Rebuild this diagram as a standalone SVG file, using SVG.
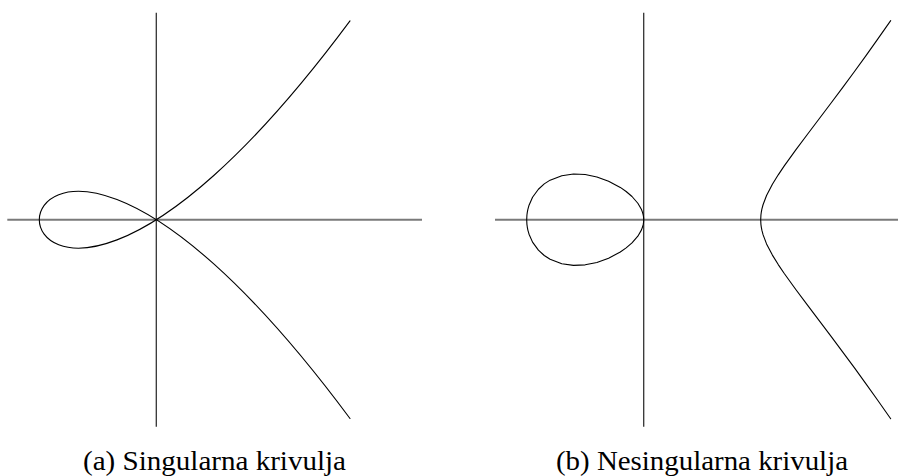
<svg xmlns="http://www.w3.org/2000/svg" width="898" height="476" viewBox="0 0 898 476">
<style>
.haxis{stroke:#7a7a7a;stroke-width:2;fill:none}
.vaxis{stroke:#333;stroke-width:1.3;fill:none}
.curve{stroke:#000;stroke-width:1.1;fill:none;stroke-linejoin:round;stroke-linecap:round}
.cap{font-family:"Liberation Serif","DejaVu Serif",serif;font-size:27px;fill:#000}
</style>
<rect width="898" height="476" fill="#fff"/>
<g id="plot-a">
<line class="haxis" x1="7.3" y1="219.7" x2="422" y2="219.7"/>
<line class="vaxis" x1="156.3" y1="12.7" x2="156.3" y2="426.7"/>
<path class="curve" d="M350,418.54 C-64.27,-139.27 -64.27,578.67 350,20.86"/>
<text class="cap" x="83" y="470" textLength="263" lengthAdjust="spacingAndGlyphs">(a) Singularna krivulja</text>
</g>
<g id="plot-b">
<line class="haxis" x1="495" y1="219.7" x2="898" y2="219.7"/>
<line class="vaxis" x1="643.7" y1="12.7" x2="643.7" y2="426.7"/>
<path class="curve" d="M890.69,20.62 L877.7,39.17 L866,55.58 L854.3,71.71 L842.6,87.59 L830.9,103.26 L819.2,118.78 L807.5,134.26 L795.8,149.9 L784.1,166.15 L778.25,174.82 L772.4,184.28 L766.55,195.52 L763.04,204.74 L761.87,209.2 L761.29,212.3 L760.93,215.03 L760.7,219.7 L760.93,224.37 L761.29,227.1 L761.87,230.2 L763.04,234.66 L766.55,243.88 L772.4,255.12 L778.25,264.58 L784.1,273.25 L795.8,289.5 L807.5,305.14 L819.2,320.62 L830.9,336.14 L842.6,351.81 L854.3,367.69 L866,383.82 L877.7,400.23 L890.69,418.78"/>
<path class="curve" d="M643.7,219.7 L643.64,218.05 L643.466,216.4 L643.115,214.49 L642.53,212.33 L641.36,209.28 L637.85,203.24 L632,196.51 L626.15,191.48 L620.3,187.41 L608.6,181.19 L596.9,176.98 L585.2,174.57 L573.5,174.03 L561.8,175.67 L550.1,180.15 L544.25,183.91 L538.4,189.22 L532.55,197.27 L529.04,205.18 L527.87,209.36 L527.29,212.36 L526.93,215.05 L526.7,219.7 L526.93,224.35 L527.29,227.04 L527.87,230.05 L529.04,234.22 L532.55,242.13 L538.4,250.18 L544.25,255.49 L550.1,259.25 L561.8,263.74 L573.5,265.37 L585.2,264.83 L596.9,262.42 L608.6,258.21 L620.3,251.99 L626.15,247.92 L632,242.89 L637.85,236.16 L641.36,230.12 L642.53,227.07 L643.115,224.91 L643.466,223 L643.64,221.35 Z"/>
<text class="cap" x="556" y="470" textLength="292" lengthAdjust="spacingAndGlyphs">(b) Nesingularna krivulja</text>
</g>
</svg>
